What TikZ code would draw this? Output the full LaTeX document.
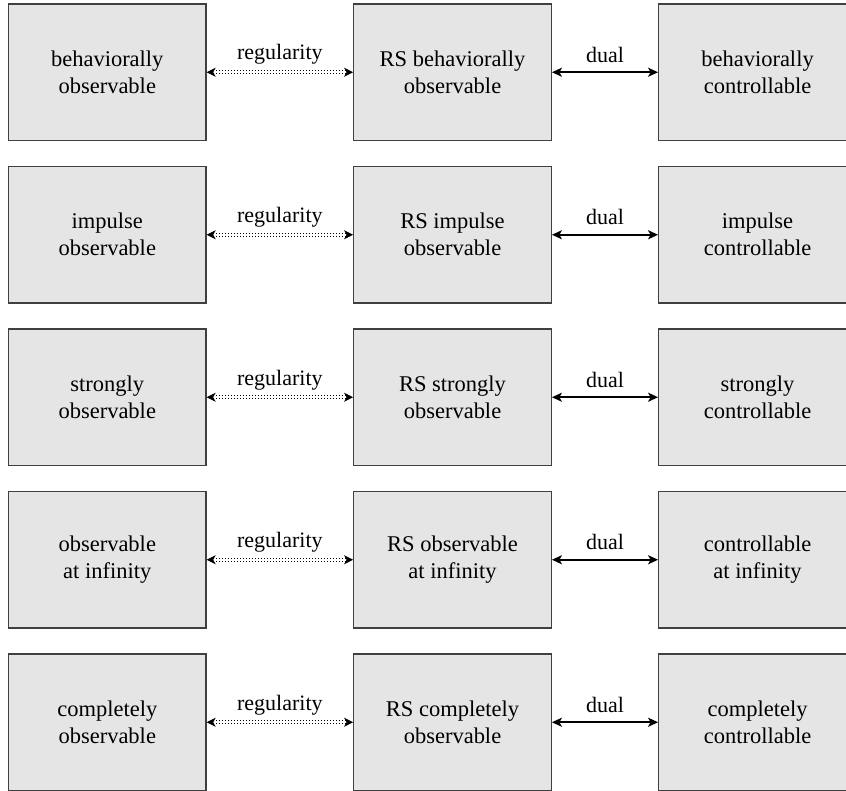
\documentclass[tikz,border=0pt]{standalone}
\usepackage{fontspec}
\setmainfont{Liberation Serif}
\usepackage{xcolor}
\usepackage{tikz}
\usetikzlibrary{arrows.meta}

\definecolor{boxgray}{HTML}{E5E5E5}
\definecolor{edgegray}{HTML}{404040}

\begin{document}
\begin{tikzpicture}[inner sep=0pt,
  box/.style={minimum height=136.5pt, minimum width=197.5pt, fill=boxgray, draw=edgegray, line width=1.3pt, align=center, font=\fontsize{22.5}{27}\selectfont, shape=rectangle},
  tag/.style={font=\fontsize{22}{26}\selectfont},
  dualarrow/.style={{Stealth[length=10pt,width=9pt,inset=2.5pt]}-{Stealth[length=10pt,width=9pt,inset=2.5pt]}, line width=1.7pt, draw},
  regarrow/.style={{Stealth[length=9pt,width=9pt,inset=2.5pt]}-{Stealth[length=9pt,width=9pt,inset=2.5pt]}, line width=1pt, double distance=2.2pt, dotted, draw}]
\useasboundingbox (0pt,0pt) rectangle (846pt,-791pt);
\node (n0) [box, at={(107.25pt,-72.25pt)}] {behaviorally\\observable};
\node (n1) [box, at={(452.5pt,-72.25pt)}] {RS behaviorally\\observable};
\node (n2) [box, at={(757.5pt,-72.25pt)}] {behaviorally\\controllable};
\node (n3) [box, at={(107.25pt,-234.75pt)}] {impulse\\observable};
\node (n4) [box, at={(452.5pt,-234.75pt)}] {RS impulse\\observable};
\node (n5) [box, at={(757.5pt,-234.75pt)}] {impulse\\controllable};
\node (n6) [box, at={(107.25pt,-397.25pt)}] {strongly\\observable};
\node (n7) [box, at={(452.5pt,-397.25pt)}] {RS strongly\\observable};
\node (n8) [box, at={(757.5pt,-397.25pt)}] {strongly\\controllable};
\node (n9) [box, at={(107.25pt,-559.75pt)}] {observable\\at infinity};
\node (n10) [box, at={(452.5pt,-559.75pt)}] {RS observable\\at infinity};
\node (n11) [box, at={(757.5pt,-559.75pt)}] {controllable\\at infinity};
\node (n12) [box, at={(107.25pt,-722.25pt)}] {completely\\observable};
\node (n13) [box, at={(452.5pt,-722.25pt)}] {RS completely\\observable};
\node (n14) [box, at={(757.5pt,-722.25pt)}] {completely\\controllable};


\path [regarrow](n0)--node[tag,above=7pt]{regularity}(n1);
\path [dualarrow](n1)--node[tag,above=9pt]{dual}(n2);


\path [regarrow](n3)--node[tag,above=7pt]{regularity}(n4);
\path [dualarrow](n4)--node[tag,above=9pt]{dual}(n5);


\path [regarrow](n6)--node[tag,above=7pt]{regularity}(n7);
\path [dualarrow](n7)--node[tag,above=9pt]{dual}(n8);


\path [regarrow](n9)--node[tag,above=7pt]{regularity}(n10);
\path [dualarrow](n10)--node[tag,above=9pt]{dual}(n11);


\path [regarrow](n12)--node[tag,above=7pt]{regularity}(n13);
\path [dualarrow](n13)--node[tag,above=9pt]{dual}(n14);
\end{tikzpicture}
\end{document}
